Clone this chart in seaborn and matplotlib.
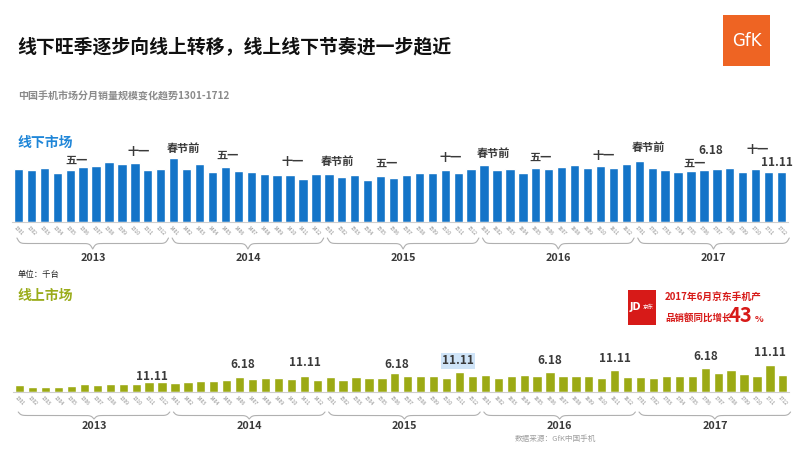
import numpy as np
import pandas as pd
import seaborn as sns
import matplotlib.pyplot as plt
from matplotlib import transforms
from matplotlib.patches import Rectangle

# monthly sales, unit: thousand units (千台), months 1301-1712
years = ['2013', '2014', '2015', '2016', '2017']
months = [f'{y[2:]}{m:02d}' for y in years for m in range(1, 13)]

offline = [39750, 39000, 40250, 36500, 39250, 41500, 41750, 44750, 43500, 44250, 38750, 39500,
           48250, 39500, 43250, 37500, 41500, 38500, 37500, 36000, 35250, 35500, 32500, 36000,
           36250, 33750, 35000, 31250, 34500, 33250, 35250, 36750, 36500, 38750, 37000, 40000,
           42750, 39000, 40000, 37000, 40750, 40000, 41000, 42500, 40500, 41750, 40250, 43500,
           46000, 40250, 39250, 37750, 38500, 38750, 40000, 40500, 37750, 39750, 37500, 37500]

online = [5000, 3500, 3750, 4000, 4250, 5750, 5500, 6000, 6000, 6250, 7250, 7250,
          7000, 7500, 8500, 8500, 9000, 11250, 9750, 10250, 10250, 9500, 12000, 9000,
          11500, 9250, 11000, 10750, 10750, 14500, 12000, 12000, 12250, 10500, 15250, 12000,
          13000, 10500, 12000, 12500, 12000, 15250, 12000, 12000, 12250, 10750, 16750, 11250,
          11250, 10500, 11750, 12250, 12000, 18250, 14000, 16250, 13250, 12000, 20000, 13000]

offline_notes = ['五一', '十一', '春节前', '五一', '十一', '春节前', '五一', '十一',
                 '春节前', '五一', '十一', '春节前', '五一', '6.18', '十一', '11.11']
online_notes = ['11.11', '6.18', '11.11', '6.18', '11.11', '6.18', '11.11', '6.18', '11.11']

df = pd.DataFrame({'month': months, 'offline': offline, 'online': online})

# note placement (bar index, value units)
offline_note_x = [4.45, 9.32, 12.72, 16.2, 21.23, 24.64, 28.42, 33.45, 36.7, 40.33, 45.28,
                  48.69, 52.25, 53.49, 57.12, 58.67]
offline_note_y = [46500, 52500, 55500, 50250, 45750, 45750, 44250, 48000, 51750, 48750,
                  50250, 56250, 44250, 53250, 54750, 45000]
online_note_x = [10.23, 17.26, 22.06, 29.17, 33.89, 41.01, 46.03, 53.07, 58.02]
online_note_y = [11250, 20250, 22500, 20250, 23250, 23250, 24750, 26250, 30000]

BLUE = '#1374c8'
OLIVE = '#9caa14'
DARK = '#3a3a3a'

sns.set_style('white')
plt.rcParams['font.family'] = ['Noto Sans CJK SC', 'DejaVu Sans']

W, H = 800, 449
fig = plt.figure(figsize=(8, 4.49), dpi=100)


def fy(y):
    return 1 - y / H


def year_brace(ax, x0, x1, y_tip, depth, color='#b0b0b0'):
    tr = transforms.blended_transform_factory(ax.transData, fig.transFigure)
    xs = np.linspace(x0, x1, 201)
    half = xs[:101]
    beta = 9.0
    yh = 1 / (1 + np.exp(-beta * (half - half[0]))) + 1 / (1 + np.exp(-beta * (half - half[-1])))
    yy = np.concatenate([yh, yh[-2::-1]])
    ys = fy(y_tip) - (depth / H) * (yy - 0.5)
    ax.plot(xs, ys, color=color, lw=0.8, transform=tr, clip_on=False)


def panel(left, base_y, height_px, col, color, ymax):
    ax = fig.add_axes([left / W, fy(base_y), 776 / W, height_px / H])
    sns.barplot(data=df, x='month', y=col, ax=ax, color=color, saturation=1, width=0.72)
    ax.set_xlim(-0.5, 59.5)
    ax.set_ylim(0, ymax)
    ax.set_xlabel('')
    ax.set_ylabel('')
    ax.set_yticks([])
    ax.set_xticks(range(len(months)))
    ax.set_xticklabels(months, rotation=-45, ha='center', fontsize=3.6, color='#8a8a8a')
    ax.tick_params(axis='x', length=0, pad=2)
    for s in ['top', 'right', 'left']:
        ax.spines[s].set_visible(False)
    ax.spines['bottom'].set_color('#cfcfcf')
    ax.spines['bottom'].set_linewidth(0.8)
    ax.patch.set_alpha(0)
    return ax


# offline panel
ax1 = panel(12, 222, 92, 'offline', BLUE, 69000)
for lab, x, y in zip(offline_notes, offline_note_x, offline_note_y):
    fs = 8.5 if lab[0].isdigit() else 8
    ax1.text(x, y, lab, ha='center', va='center', fontsize=fs, fontweight='bold', color=DARK)
for k, yr in enumerate(years):
    year_brace(ax1, 12 * k - 0.12, 12 * k + 11.6, 238, 11)
    ax1.text(12 * k + 5.75, fy(258), yr, ha='center', va='center', fontsize=7.8,
             fontweight='bold', color=DARK,
             transform=transforms.blended_transform_factory(ax1.transData, fig.transFigure))

# online panel
ax2 = panel(13.3, 392, 52, 'online', OLIVE, 39000)
for i, (lab, x, y) in enumerate(zip(online_notes, online_note_x, online_note_y)):
    box = dict(boxstyle='square,pad=0.12', fc='#cfe4f8', ec='none') if i == 4 else None
    ax2.text(x, y, lab, ha='center', va='center', fontsize=8.5, fontweight='bold',
             color=DARK, bbox=box)
for k, yr in enumerate(years):
    year_brace(ax2, 12 * k - 0.12, 12 * k + 11.6, 412, 7)
    ax2.text(12 * k + 5.75, fy(426), yr, ha='center', va='center', fontsize=7.8,
             fontweight='bold', color=DARK,
             transform=transforms.blended_transform_factory(ax2.transData, fig.transFigure))

# titles and labels
fig.text(17 / W, fy(47), '线下旺季逐步向线上转移，线上线下节奏进一步趋近', fontsize=13.6,
         fontweight='black', color='#111111', va='center')
fig.text(18 / W, fy(97), '中国手机市场分月销量规模变化趋势1301-1712', fontsize=7.2,
         fontweight='bold', color='#8a8a8a', va='center')
fig.text(17 / W, fy(143), '线下市场', fontsize=10, fontweight='bold', color='#1f86d8', va='center')
fig.text(18 / W, fy(274), '单位：千台', fontsize=6, color='#222222', va='center')
fig.text(17 / W, fy(296), '线上市场', fontsize=10, fontweight='bold', color='#9aac1a', va='center')

# GfK logo
fig.patches.append(Rectangle((723 / W, fy(66)), 47 / W, 51 / H, transform=fig.transFigure,
                             facecolor='#ee6423', edgecolor='none'))
fig.text(746.5 / W, fy(41), 'GfK', fontsize=12, color='white', ha='center', va='center',
         family='DejaVu Sans')

# JD callout
fig.patches.append(Rectangle((628 / W, fy(325)), 28 / W, 35 / H, transform=fig.transFigure,
                             facecolor='#d71a18', edgecolor='none'))
fig.text(635 / W, fy(307), 'JD', fontsize=7, fontweight='bold', color='white', ha='center',
         va='center', family='DejaVu Sans')
fig.text(648 / W, fy(307), '京东', fontsize=4, color='white', ha='center', va='center')
fig.text(665 / W, fy(297), '2017年6月京东手机产', fontsize=7, fontweight='bold',
         color='#d71a18', va='center')
fig.text(665 / W, fy(318), '品销额同比增长', fontsize=6.8, fontweight='bold',
         color='#d71a18', va='center')
fig.text(729 / W, fy(316), '43', fontsize=14.5, fontweight='bold', color='#d71a18', va='center')
fig.text(755 / W, fy(319), '%', fontsize=6.5, fontweight='bold', color='#d71a18', va='center')

fig.text(515 / W, fy(439), '数据来源：GfK中国手机', fontsize=5.5, color='#a0a0a0', va='center')

fig.savefig('out.png', dpi=100)
